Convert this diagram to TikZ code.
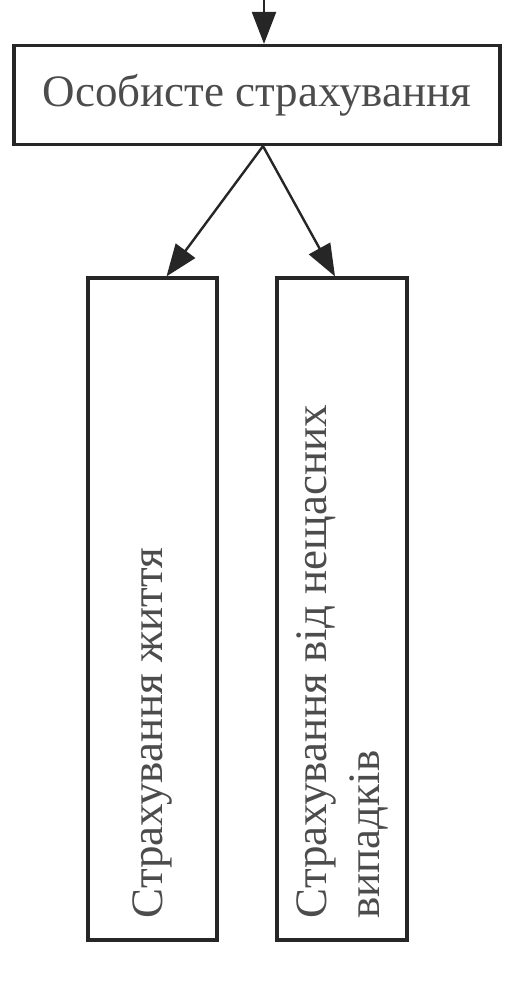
\documentclass[tikz,border=0pt]{standalone}
\usepackage{fontspec}
\setmainfont{Liberation Serif}
\usetikzlibrary{arrows.meta,calc}

\begin{document}
\begin{tikzpicture}[x=1pt,y=-1pt,
    box/.style={draw=black!85,line width=3.2pt,inner sep=0pt},
    arr/.style={line width=2.4pt,black!85,-{Triangle[length=32pt,width=24pt]}},
    lbl/.style={font=\fontsize{45}{53}\selectfont,text=black!70,inner sep=0pt}]
				  \useasboundingbox (0,0) rectangle (529,995);
				  \coordinate (top) at (264,0);
				  \node[box,minimum width=486pt,minimum height=99pt,lbl] (pers) at (257,95) {Особисте страхування};
				  \node[box,minimum width=129pt,minimum height=662pt] (life) at (152.5,609) {};
				  \node[box,minimum width=130pt,minimum height=662pt] (acc) at (342,609) {};
				  \node[lbl,rotate=90,anchor=west,align=left] (lifetxt) at ([yshift=23pt]life.south) {Страхування життя};
				  \node[lbl,rotate=90,anchor=west,align=left] (acctxt) at ([yshift=23pt]acc.south) {Страхування від нещасних\\випадків};
				  \draw[arr] (top) -- (top |- pers.north);
				  \draw[arr] ([xshift=6pt]pers.south) -- ([xshift=14pt]life.north);
				  \draw[arr] ([xshift=6pt]pers.south) -- ([xshift=-7pt]acc.north);
				  \end{tikzpicture}
\end{document}
